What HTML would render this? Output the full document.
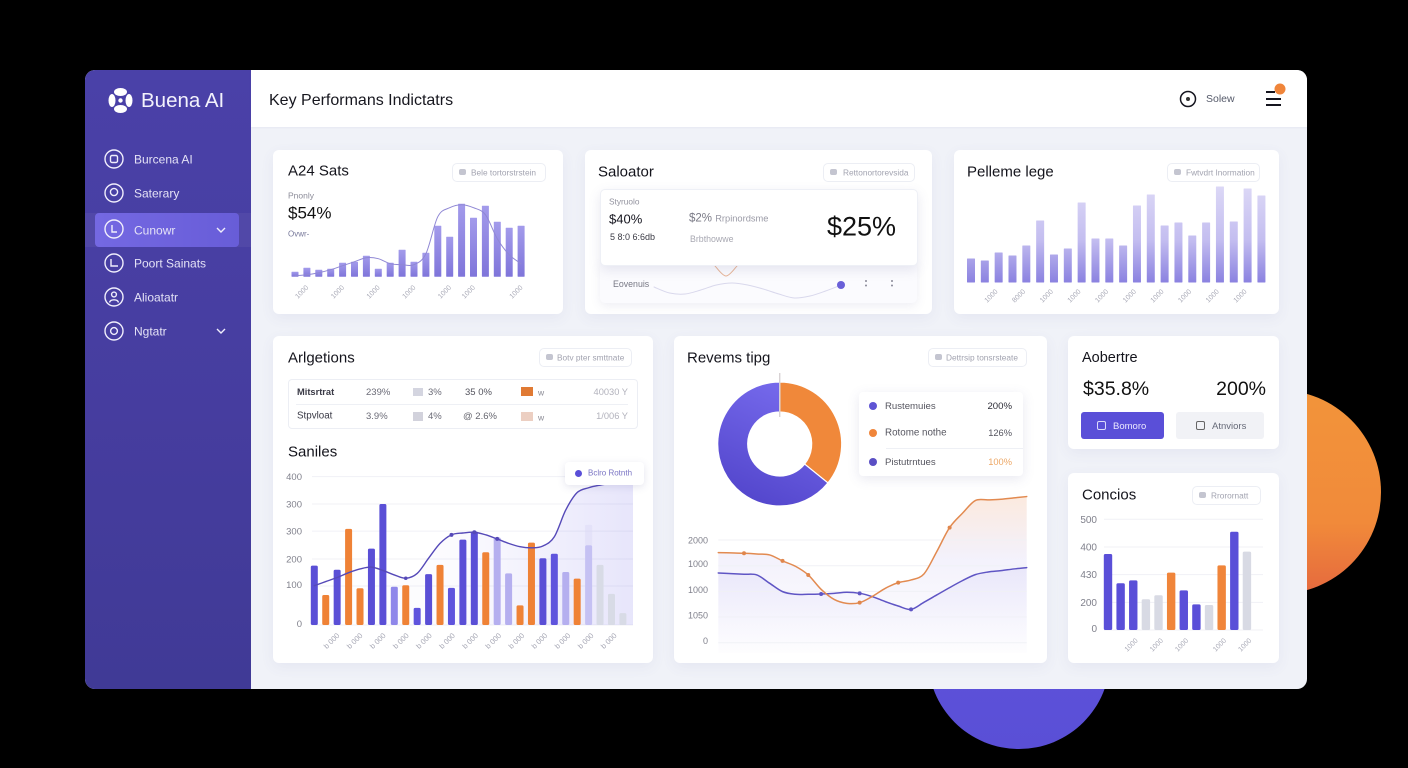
<!DOCTYPE html>
<html lang="en">
<head>
<meta charset="utf-8">
<title>Buena AI dashboard</title>
<style>
html,body{margin:0;padding:0;background:#000;}
body{width:1408px;height:768px;position:relative;overflow:hidden;font-family:"Liberation Sans",sans-serif;color:#15151f;}
.abs{position:absolute;}
.t{position:absolute;transform:translateY(calc(-50% + 1.5px));white-space:nowrap;z-index:6;line-height:1.2;}
.r{transform:translate(-100%,calc(-50% + 1.5px));}
.card{position:absolute;background:#fff;border-radius:6px;box-shadow:0 4px 14px rgba(90,90,150,.07);z-index:2;}
.h{font-size:15px;color:#14141c;}
.badge{position:absolute;border:1px solid #eceef4;border-radius:5px;background:#fff;z-index:4;box-sizing:border-box;}
.bt{font-size:8.3px;color:#a2a3b0;}
.bi{position:absolute;width:7px;height:6px;border-radius:2px;background:#c4c5d0;z-index:6;}
.nav{font-size:12px;color:#e4e2f6;}
svg{position:absolute;left:0;top:0;}
</style>
</head>
<body>
<div class="abs" style="left:1177px;top:390px;width:204px;height:204px;border-radius:50%;background:linear-gradient(180deg,#f2943a 0%,#f18a3a 65%,#e5693e 100%);z-index:0"></div>
<div class="abs" style="left:928px;top:567px;width:182px;height:182px;border-radius:50%;background:linear-gradient(180deg,#5f54de,#5a4fd6);z-index:0"></div>
<div class="abs" style="left:85px;top:70px;width:1222px;height:619px;border-radius:10px;background:#f0f2f8;z-index:1"></div>
<div class="abs" style="left:85px;top:70px;width:166px;height:619px;border-radius:10px 0 0 10px;background:linear-gradient(180deg,#4a41a8 0%,#463d9f 55%,#403a96 100%);z-index:1"></div>
<div class="abs" style="left:251px;top:70px;width:1056px;height:57px;border-radius:0 10px 0 0;background:#fff;z-index:1;box-shadow:0 1px 2px rgba(90,90,150,.06)"></div>
<div class="abs" style="left:85px;top:213px;width:166px;height:34px;background:rgba(255,255,255,.05);z-index:1"></div>
<div class="abs" style="left:95px;top:213px;width:144px;height:34px;border-radius:4px;background:linear-gradient(90deg,#7468e2,#685dd8);z-index:1"></div>

<svg width="1408" height="768" viewBox="0 0 1408 768" style="z-index:3">
  <g fill="#fff">
    <ellipse cx="120.5" cy="92" rx="6.5" ry="4"/>
    <ellipse cx="120.5" cy="109" rx="6.5" ry="4"/>
    <ellipse cx="112" cy="100.5" rx="3.5" ry="6.5"/>
    <ellipse cx="129" cy="100.5" rx="3.5" ry="6.5"/>
    <circle cx="120.5" cy="100.5" r="2.2"/>
  </g>
  <g fill="none" stroke="#f0eefc" stroke-width="1.4">
    <g><circle cx="114" cy="159" r="9"/><rect x="110.5" y="155.5" width="7" height="7" rx="1.5"/></g>
    <g><circle cx="114" cy="193" r="9"/><circle cx="114" cy="192" r="3.6"/></g>
    <g><circle cx="114" cy="229" r="9"/><path d="M112 225v7h5"/></g>
    <g><circle cx="114" cy="263" r="9"/><path d="M111 259v7h7"/></g>
    <g><circle cx="114" cy="297" r="9"/><circle cx="114" cy="294.5" r="2.4"/><path d="M109.5 302.5c1-3.6 8-3.6 9 0"/></g>
    <g><circle cx="114" cy="331" r="9"/><circle cx="114" cy="331" r="3.4"/></g>
    <path d="M217 228l4 4 4-4"/>
    <path d="M217 329l4 4 4-4"/>
  </g>
  <g><circle cx="1188" cy="99" r="7.5" fill="none" stroke="#15151f" stroke-width="1.5"/><circle cx="1188" cy="99" r="2" fill="#333"/></g>
  <g fill="none" stroke="#15151f" stroke-width="2"><path d="M1266 92h9"/><path d="M1266 99h15"/><path d="M1266 105h15"/></g>
  <circle cx="1280" cy="89" r="5.5" fill="#f0853a"/>
</svg>

<div class="t" style="left:141px;top:100px;font-size:20.5px;color:#f3f2fc">Buena AI</div>
<div class="t nav" style="left:134px;top:158px">Burcena AI</div>
<div class="t nav" style="left:134px;top:192px">Saterary</div>
<div class="t nav" style="left:134px;top:229px">Cunowr</div>
<div class="t nav" style="left:134px;top:262px">Poort Sainats</div>
<div class="t nav" style="left:134px;top:296px">Alioatatr</div>
<div class="t nav" style="left:134px;top:330px">Ngtatr</div>

<div class="t" style="left:269px;top:99px;font-size:16px;color:#17171f">Key Performans Indictatrs</div>
<div class="t" style="left:1206px;top:98px;font-size:10.5px;color:#555a6a">Solew</div>

<!-- Top row cards -->
<div class="card" style="left:273px;top:150px;width:290px;height:164px"></div>
<div class="card" style="left:585px;top:150px;width:347px;height:164px"></div>
<div class="card" style="left:954px;top:150px;width:325px;height:164px"></div>
<!-- Bottom row cards -->
<div class="card" style="left:273px;top:336px;width:380px;height:327px"></div>
<div class="card" style="left:674px;top:336px;width:373px;height:327px"></div>
<div class="card" style="left:1068px;top:336px;width:211px;height:113px"></div>
<div class="card" style="left:1068px;top:473px;width:211px;height:190px"></div>

<div class="t h" style="left:288px;top:170px">A24 Sats</div>
<div class="badge" style="left:452px;top:163px;width:94px;height:19px"></div>
<div class="bi" style="left:459px;top:169px"></div>
<div class="t bt" style="left:471px;top:172px">Bele tortorstrstein</div>
<div class="t" style="left:288px;top:194px;font-size:8.5px;color:#8b8b98">Pnonly</div>
<div class="t" style="left:288px;top:212px;font-size:17px;color:#111">$54%</div>
<div class="t" style="left:288px;top:233px;font-size:8px;color:#77789a">Ovwr-</div>

<div class="t h" style="left:598px;top:171px">Saloator</div>
<div class="badge" style="left:823px;top:163px;width:92px;height:19px"></div>
<div class="bi" style="left:830px;top:169px"></div>
<div class="t bt" style="left:843px;top:172px">Rettonortorevsida</div>
<div class="abs" style="left:600px;top:262px;width:317px;height:41px;background:#fbfbfe;border-radius:0 0 5px 5px;box-shadow:0 3px 10px rgba(90,90,150,.1);z-index:2"></div>
<div class="abs" style="left:600px;top:189px;width:318px;height:77px;background:#fff;border:1px solid #eef0f6;box-sizing:border-box;border-radius:5px;box-shadow:0 4px 12px rgba(90,90,150,.14);z-index:4"></div>
<div class="t" style="left:609px;top:201px;font-size:8.3px;color:#92929e">Styruolo</div>
<div class="t" style="left:609px;top:218px;font-size:13px;color:#15151f">$40%</div>
<div class="t" style="left:610px;top:236px;font-size:9px;color:#3a3a44">5 8:0 6:6db</div>
<div class="t" style="left:689px;top:218px;font-size:11.5px;color:#7a7a86">$2% <span style="font-size:9.3px;color:#9a9aa6">Rrpinordsme</span></div>
<div class="t" style="left:690px;top:238px;font-size:8.8px;color:#a8a8b2">Brbthowwe</div>
<div class="t" style="left:827px;top:225px;font-size:27px;color:#111">$25%</div>
<div class="t" style="left:613px;top:283px;font-size:8.8px;color:#777884">Eovenuis</div>

<div class="t h" style="left:967px;top:171px">Pelleme lege</div>
<div class="badge" style="left:1167px;top:163px;width:93px;height:19px"></div>
<div class="bi" style="left:1174px;top:169px"></div>
<div class="t bt" style="left:1186px;top:172px">Fwtvdrt Inormation</div>

<div class="t h" style="left:288px;top:357px">Arlgetions</div>
<div class="badge" style="left:539px;top:348px;width:93px;height:19px"></div>
<div class="bi" style="left:546px;top:354px"></div>
<div class="t bt" style="left:557px;top:357px">Botv pter smttnate</div>

<div class="abs" style="left:288px;top:379px;width:350px;height:50px;border:1px solid #eceef4;box-sizing:border-box;border-radius:4px;z-index:3"></div>
<div class="abs" style="left:296px;top:404px;width:332px;height:1px;background:#eef0f5;z-index:3"></div>
<div class="t" style="left:297px;top:391px;font-size:9.3px;font-weight:bold;color:#3a3a46">Mitsrtrat</div>
<div class="t" style="left:366px;top:391px;font-size:9.5px;color:#6c6c78">239%</div>
<div class="abs" style="left:413px;top:388px;width:10px;height:8px;background:#d4d5e0;z-index:3"></div>
<div class="t" style="left:428px;top:391px;font-size:9.5px;color:#6c6c78">3%</div>
<div class="t" style="left:465px;top:391px;font-size:9.5px;color:#55555f">35 0%</div>
<div class="abs" style="left:521px;top:387px;width:12px;height:9px;background:#e07a34;z-index:3"></div>
<div class="t" style="left:538px;top:391px;font-size:8.5px;color:#8a8a94">w</div>
<div class="t r" style="left:628px;top:391px;font-size:9.3px;color:#b2b2bc">40030 Y</div>
<div class="t" style="left:297px;top:415px;font-size:9.8px;color:#3a3a46">Stpvloat</div>
<div class="t" style="left:366px;top:415px;font-size:9.5px;color:#6c6c78">3.9%</div>
<div class="abs" style="left:413px;top:412px;width:10px;height:9px;background:#d2d2dc;z-index:3"></div>
<div class="t" style="left:428px;top:415px;font-size:9.5px;color:#6c6c78">4%</div>
<div class="t" style="left:463px;top:415px;font-size:9.5px;color:#66666f">@ 2.6%</div>
<div class="abs" style="left:521px;top:412px;width:12px;height:9px;background:#eccfc2;z-index:3"></div>
<div class="t" style="left:538px;top:416px;font-size:8.5px;color:#8a8a94">w</div>
<div class="t r" style="left:628px;top:415px;font-size:9.3px;color:#b2b2bc">1/006 Y</div>

<div class="t h" style="left:288px;top:451px">Saniles</div>
<div class="abs" style="left:565px;top:462px;width:79px;height:23px;background:#fff;border-radius:4px;box-shadow:0 2px 8px rgba(90,90,150,.16);z-index:4"></div>
<div class="abs" style="left:575px;top:470px;width:7px;height:7px;border-radius:50%;background:#5a4fd8;z-index:5"></div>
<div class="t" style="left:588px;top:472px;font-size:8px;color:#7a74c4">Bclro Rotnth</div>

<div class="t h" style="left:687px;top:357px">Revems tipg</div>
<div class="badge" style="left:928px;top:348px;width:99px;height:19px"></div>
<div class="bi" style="left:935px;top:354px"></div>
<div class="t bt" style="left:946px;top:357px">Dettrsip tonsrsteate</div>
<div class="abs" style="left:859px;top:392px;width:164px;height:84px;background:#fff;border-radius:4px;box-shadow:0 3px 12px rgba(90,90,150,.14);z-index:4"></div>
<div class="abs" style="left:886px;top:448px;width:137px;height:1px;background:#eef0f5;z-index:5"></div>
<div class="abs" style="left:869px;top:402px;width:8px;height:8px;border-radius:50%;background:#5f54d4;z-index:5"></div>
<div class="t" style="left:885px;top:405px;font-size:9.6px;color:#55555f">Rustemuies</div>
<div class="t r" style="left:1012px;top:405px;font-size:9.6px;color:#2e2e38">200%</div>
<div class="abs" style="left:869px;top:429px;width:8px;height:8px;border-radius:50%;background:#f0853a;z-index:5"></div>
<div class="t" style="left:885px;top:432px;font-size:9.8px;color:#55555f">Rotome nothe</div>
<div class="t r" style="left:1012px;top:432px;font-size:9.3px;color:#55555f">126%</div>
<div class="abs" style="left:869px;top:458px;width:8px;height:8px;border-radius:50%;background:#5a4fc4;z-index:5"></div>
<div class="t" style="left:885px;top:461px;font-size:9.6px;color:#55555f">Pistutrntues</div>
<div class="t r" style="left:1012px;top:461px;font-size:9.3px;color:#eda765">100%</div>

<div class="t" style="left:1082px;top:357px;font-size:14.5px;color:#14141c">Aobertre</div>
<div class="t" style="left:1083px;top:388px;font-size:19.5px;color:#111">$35.8%</div>
<div class="t r" style="left:1266px;top:388px;font-size:19.5px;color:#111">200%</div>
<div class="abs" style="left:1081px;top:412px;width:83px;height:27px;border-radius:3px;background:#5a4fd8;z-index:3"></div>
<div class="abs" style="left:1097px;top:421px;width:7px;height:7px;border:1px solid #dcdafa;border-radius:2px;z-index:5"></div>
<div class="t" style="left:1113px;top:425px;font-size:9.5px;color:#ece9ff">Bomoro</div>
<div class="abs" style="left:1176px;top:412px;width:88px;height:27px;border-radius:3px;background:#f1f2f6;z-index:3"></div>
<div class="abs" style="left:1196px;top:421px;width:7px;height:7px;border:1px solid #666;border-radius:2px;z-index:5"></div>
<div class="t" style="left:1212px;top:425px;font-size:9.5px;color:#666a78">Atnviors</div>

<div class="t h" style="left:1082px;top:494px">Concios</div>
<div class="badge" style="left:1192px;top:486px;width:69px;height:19px"></div>
<div class="bi" style="left:1199px;top:492px"></div>
<div class="t bt" style="left:1211px;top:495px">Rrorornatt</div>

<svg id="charts" width="1408" height="768" viewBox="0 0 1408 768" style="z-index:3">
  <defs>
    <linearGradient id="kpiBarGrad" x1="0" y1="0" x2="0" y2="1"><stop offset="0" stop-color="#a39beb"/><stop offset="1" stop-color="#7f75da"/></linearGradient>
    <linearGradient id="pipeBarGrad" gradientUnits="userSpaceOnUse" x1="0" y1="186" x2="0" y2="283"><stop offset="0" stop-color="#dcd8f6"/><stop offset=".55" stop-color="#c4bef0"/><stop offset="1" stop-color="#8a81e0"/></linearGradient>
    <linearGradient id="samplesAreaH" x1="0" y1="0" x2="1" y2="0"><stop offset="0" stop-color="#7a70e8" stop-opacity="0"/><stop offset=".45" stop-color="#7a70e8" stop-opacity=".03"/><stop offset="1" stop-color="#7a70e8" stop-opacity=".18"/></linearGradient>
    <linearGradient id="orangeArea" gradientUnits="userSpaceOnUse" x1="0" y1="497" x2="0" y2="653"><stop offset="0" stop-color="#f3b894" stop-opacity=".3"/><stop offset=".4" stop-color="#d8d2f4" stop-opacity=".3"/><stop offset="1" stop-color="#e6e3f8" stop-opacity=".06"/></linearGradient>
    <linearGradient id="purpleArea" gradientUnits="userSpaceOnUse" x1="0" y1="565" x2="0" y2="653"><stop offset="0" stop-color="#8d84ea" stop-opacity=".11"/><stop offset="1" stop-color="#8d84ea" stop-opacity="0"/></linearGradient>
    <linearGradient id="donutPurple" x1=".35" y1="1" x2=".75" y2="0"><stop offset="0" stop-color="#5346cc"/><stop offset="1" stop-color="#786cee"/></linearGradient>
  </defs>
</svg>

<script>
/* ---------- Sales KPI chart ---------- */
const kpiBarValues = [5, 9, 7, 8, 14, 15, 21, 8, 14, 27, 15, 24, 51, 40, 73, 59, 71, 55, 49, 51];
const kpiLineValues = [1, 2, 4, 7, 11, 15, 19, 18, 13, 12, 12, 23, 60, 69, 72, 69, 62, 38, 22, 13];
const kpiTickIndexes = [1, 4, 7, 10, 13, 15, 19];
const kpiTickLabels = ['1000', '1000', '1000', '1000', '1000', '1000', '1000'];

/* ---------- Pipeline chart ---------- */
const pipelineValues = [24, 22, 30, 27, 37, 62, 28, 34, 80, 44, 44, 37, 77, 88, 57, 60, 47, 60, 96, 61, 94, 87];
const pipelineTickIndexes = [2, 4, 6, 8, 10, 12, 14, 16, 18, 20];
const pipelineTickLabels = ['1000', '8000', '1000', '1000', '1000', '1000', '1000', '1000', '1000', '1000'];

/* ---------- Salvator sparkline ---------- */
const sparkValues = [12, 6, 5, 9, 14, 16, 14, 10, 5, 1, 3, 8, 14];
const peekValues = [10, 0, 10];

/* ---------- Samples chart ---------- */
const samplesBars = [160, 81, 149, 259, 99, 206, 326, 103, 107, 46, 137, 162, 100, 230, 252, 196, 236, 139, 53, 222, 180, 192, 143, 125, 215, 162, 84, 32];
const samplesKinds = ['p', 'o', 'p', 'o', 'o', 'p', 'p', 'l', 'o', 'm', 'p', 'o', 'm', 'p', 'p', 'o', 'x', 'x', 'o', 'o', 'p', 'm', 'x', 'o', 'y', 'g', 'g', 'g'];
const samplesLine = [106, 117, 128, 141, 151, 156, 147, 135, 126, 139, 180, 220, 243, 248, 250, 243, 232, 220, 211, 208, 213, 238, 310, 357, 370, 377, 382, 384];
const samplesTickValues = [0, 105, 178, 253, 326, 400];
const samplesTickLabels = ['0', '100', '200', '300', '300', '400'];
const samplesCatLabels = ['b 000', 'b 000', 'b 000', 'b 000', 'b 000', 'b 000', 'b 000', 'b 000', 'b 000', 'b 000', 'b 000', 'b 000', 'b 000'];

/* ---------- Donut ---------- */
const donutShares = [35.8, 64.2];

/* ---------- Revenue lines ---------- */
const revenueOrange = [1755, 1749, 1742, 1729, 1710, 1593, 1489, 1320, 1040, 845, 767, 780, 904, 1060, 1170, 1222, 1339, 1775, 2243, 2522, 2769, 2782, 2795, 2821, 2847];
const revenuePurple = [1359, 1346, 1333, 1320, 1157, 995, 943, 943, 949, 962, 982, 962, 897, 800, 715, 650, 787, 930, 1073, 1209, 1326, 1378, 1404, 1437, 1463];
const revenueOrangeDots = [2, 5, 7, 11, 14, 18];
const revenuePurpleDots = [8, 11, 15];
const revenueTickValues = [0, 500, 1000, 1500, 2000];
const revenueTickLabels = ['0', '1050', '1000', '1000', '2000'];

/* ---------- Conversions chart ---------- */
const conversionValues = [343, 211, 224, 139, 157, 259, 179, 116, 113, 292, 444, 354];
const conversionKinds = ['p', 'p', 'p', 'g', 'g', 'o', 'p', 'p', 'g', 'o', 'p', 'g'];
const conversionTickValues = [0, 125, 250, 375, 500];
const conversionTickLabels = ['0', '200', '430', '400', '500'];
const conversionTickIndexes = [2, 4, 6, 9, 11];
const conversionCatLabels = ['1000', '1000', '1000', '1000', '1000'];

const NS = 'http://www.w3.org/2000/svg';
const root = document.getElementById('charts');

function make(parent, tag, attrs) {
  const el = document.createElementNS(NS, tag);
  for (const k in attrs) el.setAttribute(k, attrs[k]);
  parent.appendChild(el);
  return el;
}
function smooth(pts) {
  let d = 'M' + pts[0][0] + ' ' + pts[0][1];
  for (let i = 0; i < pts.length - 1; i++) {
    const a = pts[Math.max(i - 1, 0)], b = pts[i], c = pts[i + 1], e = pts[Math.min(i + 2, pts.length - 1)];
    const c1x = b[0] + (c[0] - a[0]) / 6, c1y = b[1] + (c[1] - a[1]) / 6;
    const c2x = c[0] - (e[0] - b[0]) / 6, c2y = c[1] - (e[1] - b[1]) / 6;
    d += 'C' + c1x + ' ' + c1y + ' ' + c2x + ' ' + c2y + ' ' + c[0] + ' ' + c[1];
  }
  return d;
}
function rotLabel(parent, x, y, label, size) {
  const t = make(parent, 'text', { x: x, y: y, 'text-anchor': 'end', 'font-size': size, fill: '#a8a9b6', transform: 'rotate(-45 ' + x + ' ' + y + ')' });
  
  
  t.textContent = label;
}
function yLabel(parent, x, y, label, size) {
  const t = make(parent, 'text', { x: x, y: y + 3.5, 'text-anchor': 'end', 'font-size': size, fill: '#80818c' });
  
  
  t.textContent = label;
}
function gridLine(parent, x1, x2, y) {
  const l = make(parent, 'line', { x1: x1, x2: x2, y1: y, y2: y, stroke: '#f0f1f6', 'stroke-width': 1 });
  
  
}
function bar(parent, cx, w, top, base, fill, rx) {
  const r = make(parent, 'rect', { x: cx - w / 2, y: top, width: w, height: Math.max(base - top, 0), fill: fill, rx: rx });
  
  
  return r;
}
function linePath(parent, d, stroke, width) {
  const p = make(parent, 'path', { d: d, fill: 'none', stroke: stroke, 'stroke-width': width, 'stroke-linejoin': 'round', 'stroke-linecap': 'round' });
  
  
  return p;
}
function areaPath(parent, d, fill) {
  const p = make(parent, 'path', { d: d, fill: fill, stroke: 'none' });
  
  
  return p;
}
function dot(parent, x, y, r, fill) {
  const c = make(parent, 'circle', { cx: x, cy: y, r: r, fill: fill });
  
  
  return c;
}
function group(name) {
  const g = make(root, 'g', {});
  
  
  return g;
}

/* Sales KPI */
(function () {
  const g = group('sales-kpi-chart');
  const x = i => 295 + i * 11.9;
  const y = v => 276.7 - v;
  kpiBarValues.forEach((v, i) => bar(g, x(i), 7, y(v), y(0), 'url(#kpiBarGrad)', 0.5));
  linePath(g, smooth(kpiLineValues.map((v, i) => [x(i), y(v)])), '#8f87d4', 1);
  kpiTickIndexes.forEach((idx, i) => rotLabel(g, x(idx) + 2, 288, kpiTickLabels[i], 7));
})();

/* Pipeline */
(function () {
  const g = group('pipeline-chart');
  const x = i => 971 + i * 13.83;
  const y = v => 282.5 - v;
  pipelineValues.forEach((v, i) => bar(g, x(i), 8, y(v), y(0), 'url(#pipeBarGrad)', 0.5));
  pipelineTickIndexes.forEach((idx, i) => rotLabel(g, x(idx) - 0.5, 292, pipelineTickLabels[i], 7));
})();

/* Salvator sparkline + peek curve */
(function () {
  const g = group('salvator-sparkline');
  const peek = group('salvator-peek-curve');
  const px = i => 715 + i * 11;
  const py = v => 276 - v;
  linePath(peek, smooth(peekValues.map((v, i) => [px(i), py(v)])), '#e8b596', 1);
  const x = i => 654 + i * 15.6;
  const y = v => 299 - v;
  linePath(g, smooth(sparkValues.map((v, i) => [x(i), y(v)])), '#d9d8ec', 1);
  dot(g, 841, 285, 4, '#6a60d8');
  [866, 892].forEach(cx => { dot(g, cx, 281, 1, '#8a8a98'); dot(g, cx, 285.5, 1, '#8a8a98'); });
})();

/* Samples */
(function () {
  const g = group('samples-chart');
  const x = i => 314.3 + i * 11.43;
  const k = 0.371;
  const y = v => 625 - v * k;
  const fills = { p: '#5a4fd6', o: '#ef8236', l: '#8f87ea', m: '#5f54dd', x: '#b5afef', y: '#c5c1f3', g: '#d8dbe6' };
  samplesTickValues.forEach((v, i) => {
    gridLine(g, 312, 633, y(v));
    yLabel(g, 302, y(v) - (v < 150 ? 1.5 : 0), samplesTickLabels[i], 9.5);
  });
  const pts = samplesLine.map((v, i) => [x(i), y(v)]);
  pts[pts.length - 1][0] = 633;
  areaPath(g, smooth(pts) + 'L633 625L' + x(0) + ' 625Z', 'url(#samplesAreaH)');
  const ghost = bar(g, x(24), 7, y(270), y(215), '#dcdaf5', 1);
  ghost.setAttribute('opacity', '.5');
  samplesBars.forEach((v, i) => bar(g, x(i), 7, y(v), y(0), fills[samplesKinds[i]], 1.5));
  linePath(g, smooth(pts.slice(0, 27)), '#5549b8', 1.4);
  [12, 14, 16].forEach(i => dot(g, x(i), y(samplesLine[i]), 2, '#5549b8'));
  dot(g, x(8), y(samplesLine[8]), 1.8, '#5549b8');
  samplesCatLabels.forEach((lab, i) => rotLabel(g, 340 + i * 23.1, 636, lab, 7.5));
})();

/* Donut */
(function () {
  const g = group('revenue-donut');
  const cx = 779.7, cy = 444, R = 62, r = 32;
  const total = donutShares.reduce((a, b) => a + b, 0);
  const fills = ['#f0883a', 'url(#donutPurple)'];
  let a0 = 0;
  donutShares.forEach((s, i) => {
    const a1 = a0 + s / total * Math.PI * 2;
    const P = (rad, a) => (cx + rad * Math.sin(a)) + ' ' + (cy - rad * Math.cos(a));
    const large = a1 - a0 > Math.PI ? 1 : 0;
    const d = 'M' + P(R, a0) + 'A' + R + ' ' + R + ' 0 ' + large + ' 1 ' + P(R, a1) + 'L' + P(r, a1) + 'A' + r + ' ' + r + ' 0 ' + large + ' 0 ' + P(r, a0) + 'Z';
    const p = make(g, 'path', { d: d, fill: fills[i], stroke: '#fff', 'stroke-width': 1.2 });
    
    
    a0 = a1;
  });
  const m = make(g, 'line', { x1: cx, x2: cx, y1: 373, y2: 417, stroke: '#d8d2d4', 'stroke-width': 1.4 });
  
  
})();

/* Revenue lines */
(function () {
  const g = group('revenue-line-chart');
  const x = i => 718.3 + i * 12.85;
  const k = 0.05133;
  const y = v => 642.7 - v * k;
  const right = x(revenueOrange.length - 1), left = x(0);
  const ptsO = revenueOrange.map((v, i) => [x(i), y(v)]);
  const ptsP = revenuePurple.map((v, i) => [x(i), y(v)]);
  areaPath(g, smooth(ptsO) + 'L' + right + ' 653L' + left + ' 653Z', 'url(#orangeArea)');
  areaPath(g, smooth(ptsP) + 'L' + right + ' 653L' + left + ' 653Z', 'url(#purpleArea)');
  revenueTickValues.forEach((v, i) => {
    gridLine(g, left, right, y(v));
    yLabel(g, 708, y(v) - (v === 2000 ? 0 : 2), revenueTickLabels[i], 9);
  });
  linePath(g, smooth(ptsP), '#5f55c4', 1.5);
  linePath(g, smooth(ptsO), '#e28a50', 1.5);
  revenueOrangeDots.forEach(i => dot(g, x(i), y(revenueOrange[i]), 2, '#e0864c'));
  revenuePurpleDots.forEach(i => dot(g, x(i), y(revenuePurple[i]), 2, '#5f55c4'));
})();

/* Conversions */
(function () {
  const g = group('conversions-chart');
  const x = i => 1108 + i * 12.63;
  const k = 0.2214;
  const y = v => 630 - v * k;
  const fills = { p: '#5a4fd8', o: '#f0853a', g: '#d8dae4' };
  conversionTickValues.forEach((v, i) => {
    gridLine(g, 1104, 1263, y(v));
    yLabel(g, 1097, y(v) - (v === 0 ? 1.5 : 0), conversionTickLabels[i], 10);
  });
  conversionValues.forEach((v, i) => bar(g, x(i), 8.4, y(v), y(0), fills[conversionKinds[i]], 1.5));
  conversionTickIndexes.forEach((idx, i) => rotLabel(g, x(idx) + 5, 641, conversionCatLabels[i], 7));
})();
</script>
</body>
</html>
